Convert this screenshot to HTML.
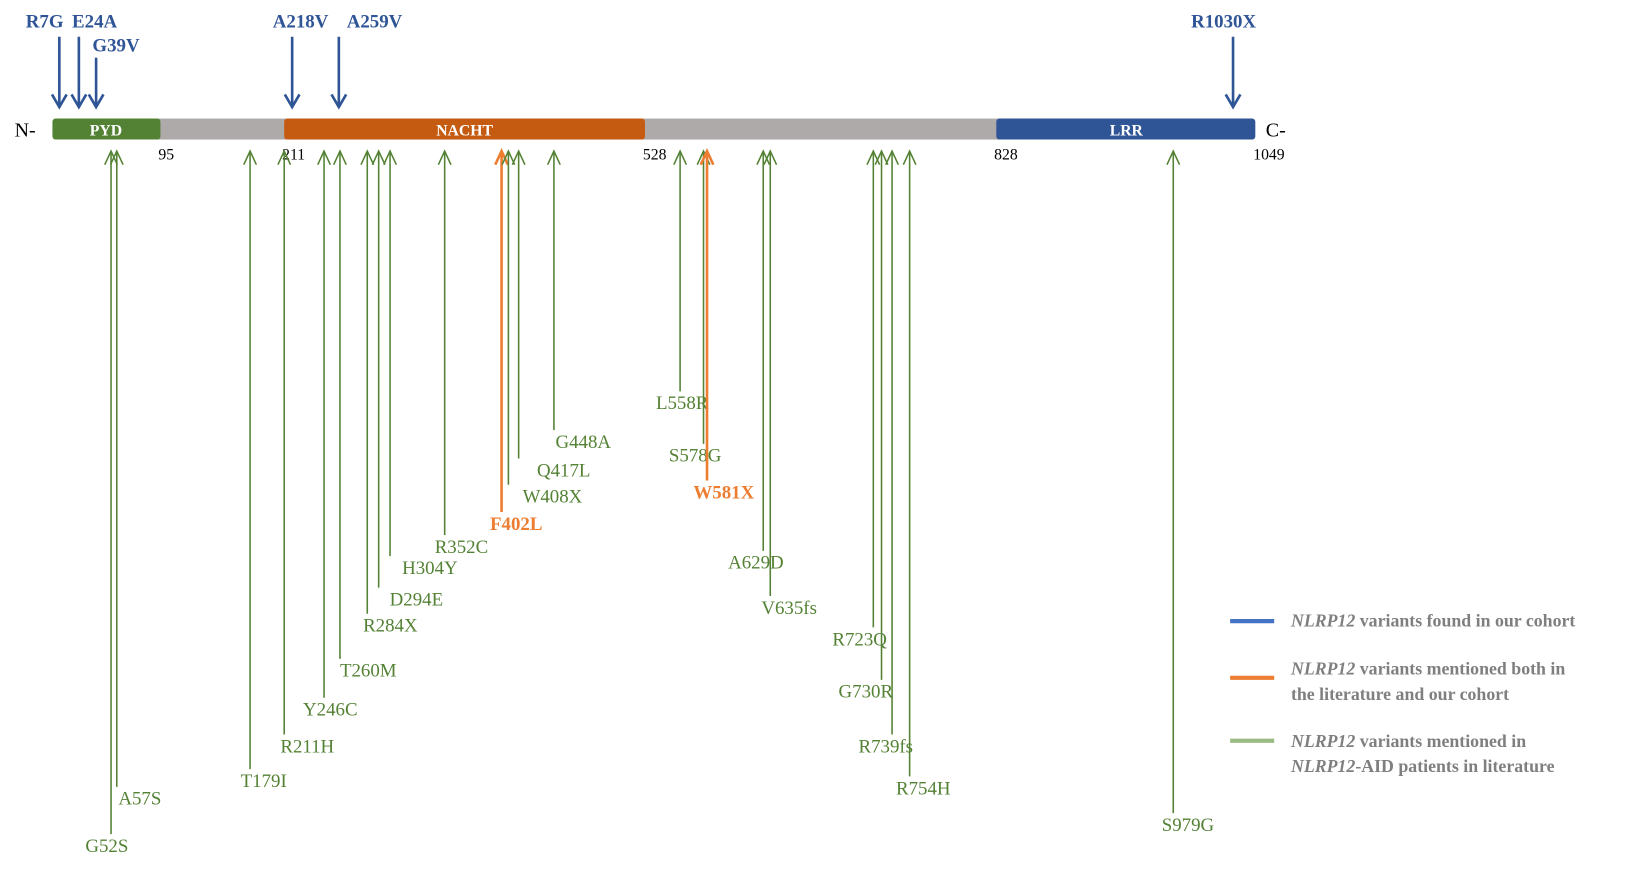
<!DOCTYPE html>
<html><head><meta charset="utf-8">
<style>
html,body{margin:0;padding:0;background:#fff;}
svg{display:block;font-family:"Liberation Serif",serif;}
</style></head>
<body>
<svg id="chart" width="1636" height="874" viewBox="0 0 1560 833" preserveAspectRatio="none" xmlns="http://www.w3.org/2000/svg">
  <g id="protein">
    <rect x="150" y="113" width="805" height="20" fill="#aeaaaa"/>
    <rect x="50" y="113" width="103" height="20" rx="3" fill="#548235"/>
    <rect x="271" y="113" width="344" height="20" rx="3" fill="#c55a11"/>
    <rect x="950" y="113" width="247" height="20" rx="3" fill="#2f5597"/>
    <text x="101" y="129" fill="#fff" font-weight="bold" font-size="15" text-anchor="middle">PYD</text>
    <text x="443" y="129" fill="#fff" font-weight="bold" font-size="15" text-anchor="middle">NACHT</text>
    <text x="1074" y="129" fill="#fff" font-weight="bold" font-size="15" text-anchor="middle">LRR</text>
    <text x="14" y="130" font-size="19" fill="#000">N-</text>
    <text x="1207" y="130" font-size="19" fill="#000">C-</text>
  </g>
  <g id="ticks"></g>
  <g id="blue"></g>
  <g id="lit"></g>
  <g id="legend">
    <line x1="1173" y1="592" x2="1215" y2="592" stroke="#4472c4" stroke-width="4"/>
    <text x="1231" y="597" font-size="17" font-weight="bold" fill="#7f7f7f"><tspan font-style="italic">NLRP12</tspan> variants found in our cohort</text>
    <line x1="1173" y1="646" x2="1215" y2="646" stroke="#ed7d31" stroke-width="4"/>
    <text x="1231" y="643" font-size="17" font-weight="bold" fill="#7f7f7f"><tspan font-style="italic">NLRP12</tspan> variants mentioned both in</text>
    <text x="1231" y="667" font-size="17" font-weight="bold" fill="#7f7f7f">the literature and our cohort</text>
    <line x1="1173" y1="706" x2="1215" y2="706" stroke="#9bbb85" stroke-width="4"/>
    <text x="1231" y="712" font-size="17" font-weight="bold" fill="#7f7f7f"><tspan font-style="italic">NLRP12</tspan> variants mentioned in</text>
    <text x="1231" y="736" font-size="17" font-weight="bold" fill="#7f7f7f"><tspan font-style="italic">NLRP12</tspan>-AID patients in literature</text>
  </g>
</svg>
<script>
// Domain boundaries (amino-acid positions)
const boundaryAA = [95, 211, 528, 828, 1049];
// Cohort variants (blue, above the bar)
const cohortNames = ["R7G", "E24A", "G39V", "A218V", "A259V", "R1030X"];
const cohortPos = [7, 24, 39, 218, 259, 1030];
const cohortRow = [0, 0, 1, 0, 0, 0];
// Literature variants (below the bar)
const litNames = ["G52S","A57S","T179I","R211H","Y246C","T260M","R284X","D294E","H304Y","R352C","F402L","W408X","Q417L","G448A","L558R","S578G","W581X","A629D","V635fs","R723Q","G730R","R739fs","R754H","S979G"];
const litPos = [52,57,179,211,246,260,284,294,304,352,402,408,417,448,558,578,581,629,635,723,730,739,754,979];
const litInCohort = [0,0,0,0,0,0,0,0,0,0,1,0,0,0,0,0,1,0,0,0,0,0,0,0];
// Label depth tier (label rows from top)
const litDepth = [795,750,733,700,665,628,585,560,530,510,488,462,437,410,373,423,458,525,568,598,648,700,740,775];

// layout: horizontal label nudges (not data)
const cohortLabelDx = [-14, 15, 19, 8, 34, -9];
const litLabelDx = [-4,22,13,22,6,27,22,36,38,16,14,42,43,28,2,-8,16,-7,18,-13,-15,-6,13,14];

// piecewise axis: amino acid -> x
const axAA = [1, 95, 211, 528, 828, 1049];
const axPx = [50, 153, 271, 615, 950, 1197];
function xScale(aa){
  for(let i=0;i<axAA.length-1;i++){
    if(aa<=axAA[i+1]||i===axAA.length-2){
      return axPx[i]+(aa-axAA[i])*(axPx[i+1]-axPx[i])/(axAA[i+1]-axAA[i]);
    }
  }
}
const NS="http://www.w3.org/2000/svg";
function mk(tag, attrs, parent){
  const e=document.createElementNS(NS,tag);
  for(const k in attrs) e.setAttribute(k, attrs[k]);
  parent.appendChild(e); return e;
}
const ticks=document.getElementById('ticks');
boundaryAA.forEach(function(b){
  const t=mk('text',{x:xScale(b)-2,y:152,'font-size':15,fill:'#000'},ticks);
  
  
  t.textContent=b;
});
const blue=document.getElementById('blue');
const BLUE='#2f5597';
cohortNames.forEach(function(n,i){
  const x=xScale(cohortPos[i]);
  const top = cohortRow[i] ? 55 : 35;
  const g=mk('g',{},blue);
  
  
  mk('line',{x1:x,y1:top,x2:x,y2:102,stroke:BLUE,'stroke-width':2.5},g);
  mk('polyline',{points:(x-7)+','+90+' '+x+','+102+' '+(x+7)+','+90,fill:'none',stroke:BLUE,'stroke-width':2.5},g);
  const t=mk('text',{x:x+cohortLabelDx[i],y:(cohortRow[i]?49:26),'font-size':18,'font-weight':'bold',fill:BLUE,'text-anchor':'middle'},g);
  
  
  t.textContent=n;
});
const lit=document.getElementById('lit');
litNames.forEach(function(n,i){
  const x=xScale(litPos[i]);
  const both=litInCohort[i]===1;
  const col=both?'#ed7d31':'#548235';
  const bottom=litDepth[i];
  const g=mk('g',{},lit);
  
  
  mk('line',{x1:x,y1:144,x2:x,y2:bottom,stroke:col,'stroke-width':both?2.5:1.5},g);
  mk('polyline',{points:(x-6)+','+157+' '+x+','+144+' '+(x+6)+','+157,fill:'none',stroke:col,'stroke-width':both?2.5:1.5},g);
  const t=mk('text',{x:x+litLabelDx[i],y:bottom+17,'font-size':18,fill:col,'text-anchor':'middle','font-weight':both?'bold':'normal'},g);
  
  
  t.textContent=n;
});
</script>
</body></html>
